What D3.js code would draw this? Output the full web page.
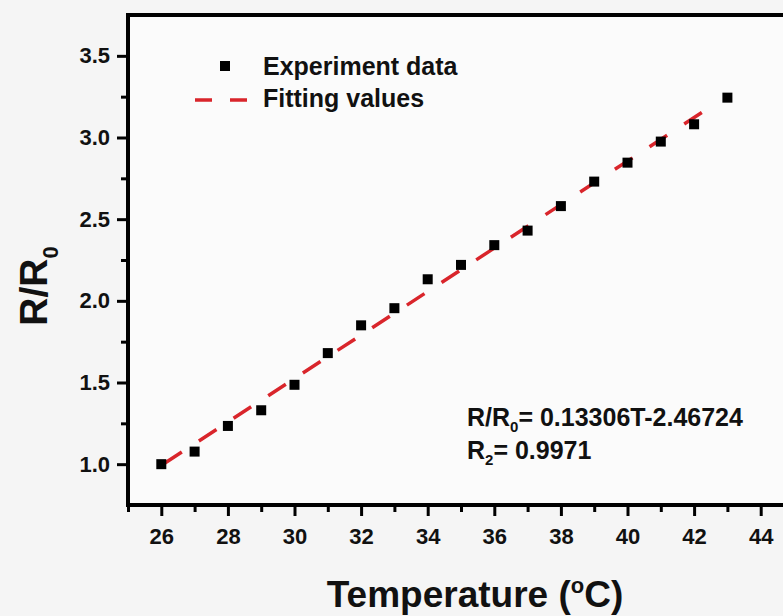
<!DOCTYPE html>
<html>
<head>
<meta charset="utf-8">
<script src="https://cdn.jsdelivr.net/npm/d3@7"></script>
<style>
  html, body { margin: 0; padding: 0; background: #f5f5f5; }
  svg { display: block; }
  text { font-family: "Liberation Sans", Arial, sans-serif; font-weight: bold; fill: #111; }
</style>
</head>
<body>
<svg id="chart"></svg>
<script>
// measured temperatures and resistance ratio
const temps = [26, 27, 28, 29, 30, 31, 32, 33, 34, 35, 36, 37, 38, 39, 40, 41, 42, 43];
const ratios = [1.00, 1.077, 1.234, 1.33, 1.486, 1.68, 1.85, 1.955, 2.132, 2.22, 2.341, 2.43, 2.58, 2.73, 2.846, 2.975, 3.081, 3.244];

// fitted line end points
const fitTemps = [26, 42.4];
const fitRatios = [0.992, 3.175];

const xMajorTicks = [26, 28, 30, 32, 34, 36, 38, 40, 42, 44];
const xMinorTicks = [25, 27, 29, 31, 33, 35, 37, 39, 41, 43];
const yMajorTicks = [1.0, 1.5, 2.0, 2.5, 3.0, 3.5];
const yMinorTicks = [1.25, 1.75, 2.25, 2.75, 3.25];

const legendLabels = ["Experiment data", "Fitting values"];

const width = 783, height = 616;
const margin = { top: 15, left: 128 };
const plotW = 666, plotH = 490;

const svg = d3.select("#chart").attr("width", width).attr("height", height);

const xScale = d3.scaleLinear().domain([25, 45]).range([margin.left, margin.left + plotW]);
const yScale = d3.scaleLinear().domain([0.75, 3.75]).range([margin.top + plotH, margin.top]);

// plot background
svg.append("rect")
  .attr("x", margin.left).attr("y", margin.top)
  .attr("width", plotW).attr("height", plotH)
  .attr("fill", "#fbfbfb");

// fit line
const fitData = fitTemps.map((t, i) => ({ t: t, r: fitRatios[i] }));
const line = d3.line().x(d => xScale(d.t)).y(d => yScale(d.r));
svg.append("path")
  .datum(fitData)
  .attr("d", line)
  .attr("fill", "none")
  .attr("stroke", "#d9252b")
  .attr("stroke-width", 3.5)
  .attr("stroke-dasharray", "21,20.4")
  .attr("stroke-dashoffset", 37.9);

// data points
const pts = temps.map((t, i) => ({ t: t, r: ratios[i] }));
const sq = 10;
svg.append("g")
  .selectAll("rect")
  .data(pts)
  .join("rect")
  .attr("x", d => xScale(d.t) - sq / 2)
  .attr("y", d => yScale(d.r) - sq / 2)
  .attr("width", sq)
  .attr("height", sq)
  .attr("fill", "#000");

// frame
svg.append("rect")
  .attr("x", margin.left).attr("y", margin.top)
  .attr("width", plotW).attr("height", plotH)
  .attr("fill", "none")
  .attr("stroke", "#000")
  .attr("stroke-width", 4);

// axes
const xAxis = svg.append("g").attr("transform", `translate(0, ${margin.top + plotH})`);
xAxis.call(d3.axisBottom(xScale).tickValues(xMajorTicks).tickSize(11).tickPadding(12).tickFormat(d3.format("d")));
const xMinor = svg.append("g").attr("transform", `translate(0, ${margin.top + plotH})`);
xMinor.call(d3.axisBottom(xScale).tickValues(xMinorTicks).tickSize(7).tickFormat(""));

const yAxis = svg.append("g").attr("transform", `translate(${margin.left}, 0)`);
yAxis.call(d3.axisLeft(yScale).tickValues(yMajorTicks).tickSize(11).tickPadding(7).tickFormat(d3.format(".1f")));
const yMinor = svg.append("g").attr("transform", `translate(${margin.left}, 0)`);
yMinor.call(d3.axisLeft(yScale).tickValues(yMinorTicks).tickSize(7).tickFormat(""));

svg.selectAll(".domain").remove();
svg.selectAll(".tick line").attr("stroke", "#000").attr("stroke-width", 3);
svg.selectAll(".tick text")
  .style("font-size", "22px")
  .style("font-family", "'Liberation Sans', Arial, sans-serif")
  .style("font-weight", "bold")
  .attr("fill", "#111");

// axis titles
const xTitle = svg.append("text")
  .attr("x", 475).attr("y", 607)
  .attr("text-anchor", "middle")
  .style("font-size", "37px");
xTitle.append("tspan").text("Temperature (");
xTitle.append("tspan").attr("dy", -14).style("font-size", "22px").text("o");
xTitle.append("tspan").attr("dy", 14).text("C)");

const yTitle = svg.append("text")
  .attr("transform", "translate(47, 286) rotate(-90)")
  .attr("text-anchor", "middle")
  .style("font-size", "39px");
yTitle.append("tspan").text("R/R");
yTitle.append("tspan").attr("dy", 11).style("font-size", "22px").text("0");

// legend
const legend = svg.append("g");
legend.append("rect")
  .attr("x", 220).attr("y", 61)
  .attr("width", sq).attr("height", sq)
  .attr("fill", "#000");
legend.append("line")
  .attr("x1", 195).attr("x2", 248)
  .attr("y1", 100).attr("y2", 100)
  .attr("stroke", "#d9252b")
  .attr("stroke-width", 3.5)
  .attr("stroke-dasharray", "17,18");
legend.selectAll("text.leg")
  .data(legendLabels)
  .join("text")
  .attr("class", "leg")
  .attr("x", 263)
  .attr("y", (d, i) => 75 + i * 32)
  .style("font-size", "25px")
  .text(d => d);

// equation annotation
const eq = svg.append("text").attr("x", 467).attr("y", 426).style("font-size", "25px");
eq.append("tspan").text("R/R");
eq.append("tspan").attr("dy", 6).style("font-size", "15px").text("0");
eq.append("tspan").attr("dy", -6).text("= 0.13306T-2.46724");

const r2 = svg.append("text").attr("x", 467).attr("y", 459).style("font-size", "25px");
r2.append("tspan").text("R");
r2.append("tspan").attr("dy", 6).style("font-size", "15px").text("2");
r2.append("tspan").attr("dy", -6).text("= 0.9971");
</script>
</body>
</html>
